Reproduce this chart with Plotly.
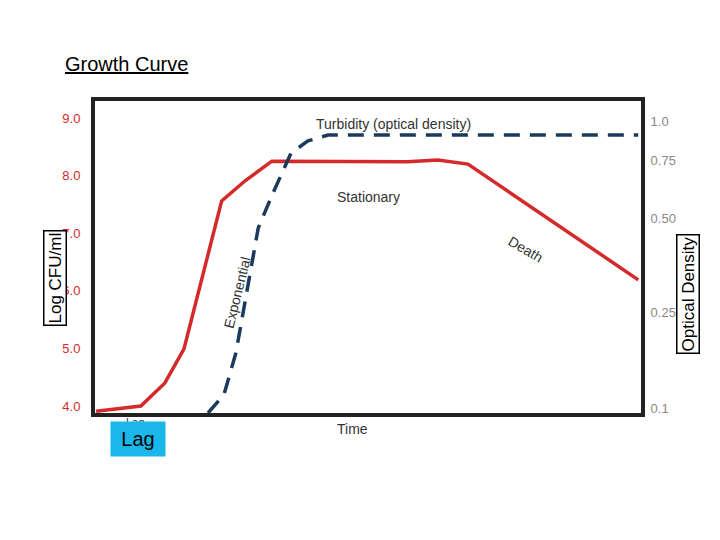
import plotly.graph_objects as go

cfu_t = [0.2, 8.4, 12.8, 16.3, 23.2, 27.5, 32.4, 44.5, 57.3, 62.8, 68.3, 99.5]
cfu_v = [3.91, 4.0, 4.4, 4.99, 7.56, 7.91, 8.25, 8.25, 8.24, 8.27, 8.2, 6.19]
od_t = [20.7, 23.6, 25.8, 29.9, 32.6, 35.9, 39.0, 42.7, 47.3, 99.5]
od_v = [0.0, 0.058, 0.192, 0.593, 0.705, 0.833, 0.872, 0.891, 0.891, 0.891]
left_ticks = [4, 5, 6, 7, 8, 9]
left_text = ["4.0", "5.0", "6.0", "7.0", "8.0", "9.0"]
right_pos = [0.016, 0.321, 0.625, 0.811, 0.936]
right_text = ["0.1", "0.25", "0.50", "0.75", "1.0"]

fig = go.Figure()
fig.add_trace(go.Scatter(x=cfu_t, y=cfu_v, mode="lines", line=dict(color="#d42a2a", width=3.5)))
fig.add_trace(go.Scatter(x=od_t, y=od_v, mode="lines", yaxis="y2",
                         line=dict(color="#1b3a5c", width=3.5, dash="16px,10px")))
fig.update_layout(
    width=720, height=540, showlegend=False, plot_bgcolor="white", paper_bgcolor="white",
    margin=dict(l=87, r=87, t=93, b=135, pad=0, autoexpand=False),
    font=dict(family="Liberation Sans, Arial", size=13),
    xaxis=dict(range=[0, 100], showticklabels=False, showgrid=False, zeroline=False,
               showline=True, mirror=True, linecolor="#222", linewidth=4),
    yaxis=dict(range=[3.878, 9.295], tickvals=left_ticks, ticktext=left_text, showgrid=False,
               zeroline=False, tickfont=dict(color="#d42a2a", size=13),
               ticks="outside", ticklen=8, tickcolor="rgba(0,0,0,0)",
               showline=True, mirror=True, linecolor="#222", linewidth=4),
    yaxis2=dict(range=[0, 1], overlaying="y", side="right", tickvals=right_pos, ticktext=right_text,
                showgrid=False, zeroline=False, tickfont=dict(color="#888", size=13),
                ticks="outside", ticklen=6, tickcolor="rgba(0,0,0,0)"),
)
def txt(x, y, t, size=14, ang=0, color="#333", **k):
    fig.add_annotation(x=x, y=y, xref="paper", yref="paper", text=t, showarrow=False,
                       textangle=ang, font=dict(size=size, color=color), **k)
px = lambda X: (X-87)/546
py = lambda Y: (405-Y)/312
txt(px(465), py(106), "Turbidity (optical density)")
txt(px(360), py(179), "Stationary")
txt(px(540), py(241), "Death", ang=30)
txt(px(210), py(285), "Exponential", ang=-76)
txt(px(344), py(431), "Time")
txt(px(116), py(422), "Lag", size=11)
txt(px(102), py(449), "Lag", size=20, color="black", bgcolor="#1ab8ea", width=52, height=32)
txt(px(55), py(43), "<u>Growth Curve</u>", size=20, color="black", xanchor="left")
txt(px(35), py(270), "Log CFU/ml", size=17, color="black", ang=-90,
    bordercolor="black", borderwidth=1.5, bgcolor="white")
txt(px(692), py(286), "Optical Density", size=17, color="black", ang=-90,
    bordercolor="black", borderwidth=1.5, bgcolor="white")
fig.write_html("out.html")
